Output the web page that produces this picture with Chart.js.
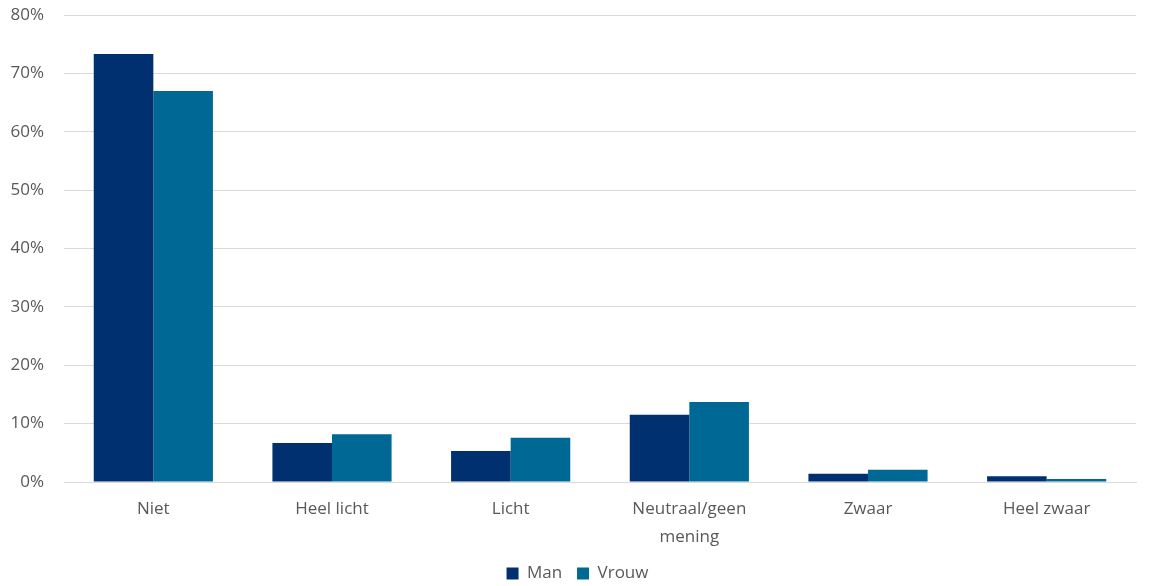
<!DOCTYPE html>
<html>
<head>
<meta charset="utf-8">
<script src="https://cdn.jsdelivr.net/npm/chart.js@4/dist/chart.umd.min.js"></script>
<style>
  html, body { margin:0; padding:0; background:#fff; }
  #wrap { width:1155px; height:586px; }
</style>
</head>
<body>
<div id="wrap"><canvas id="chart"></canvas></div>
<script>
const categories = ['Niet', 'Heel licht', 'Licht', ['Neutraal/geen', 'mening'], 'Zwaar', 'Heel zwaar'];
const manValues = [73.3, 6.7, 5.3, 11.5, 1.4, 1.0];
const vrouwValues = [67.0, 8.2, 7.6, 13.7, 2.1, 0.5];
const seriesNames = ['Man', 'Vrouw'];

Chart.defaults.font.family = '"Open Sans", "Liberation Sans", sans-serif';
Chart.defaults.color = '#595959';

const ctx = document.getElementById('chart');
new Chart(ctx, {
  type: 'bar',
  data: {
    labels: categories,
    datasets: [
      { label: seriesNames[0], data: manValues, backgroundColor: '#003070' },
      { label: seriesNames[1], data: vrouwValues, backgroundColor: '#006894' }
    ]
  },
  options: {
    responsive: true,
    maintainAspectRatio: false,
    animation: false,
    layout: { padding: { top: 0, right: 0, left: 0, bottom: -6 } },
    datasets: { bar: { categoryPercentage: 0.667, barPercentage: 1.0 } },
    plugins: {
      legend: {
        position: 'bottom',
        labels: {
          boxWidth: 12, boxHeight: 12, padding: 6, font: { size: 17 }, color: '#595959',
          generateLabels: (chart) => {
            const items = Chart.defaults.plugins.legend.labels.generateLabels(chart);
            items.forEach((it, i) => { if (i < items.length - 1) it.text += '  '; });
            return items;
          }
        }
      },
      tooltip: { enabled: false }
    },
    scales: {
      x: {
        grid: { display: false, drawTicks: false },
        border: { color: '#d9d9d9', width: 1 },
        afterFit: (scale) => { scale.height = 77; scale.paddingRight = 19; },
        ticks: { font: { size: 17, lineHeight: 1.6 }, color: '#595959', padding: 14, maxRotation: 0 }
      },
      y: {
        min: 0,
        max: 80,
        grid: { color: '#d9d9d9', drawTicks: false },
        border: { display: false },
        afterFit: (scale) => { scale.width = 64; scale.paddingTop = 15; },
        ticks: {
          stepSize: 10,
          padding: 20,
          font: { size: 17 },
          color: '#595959',
          callback: (v) => v + '%'
        }
      }
    }
  }
});
</script>
</body>
</html>
